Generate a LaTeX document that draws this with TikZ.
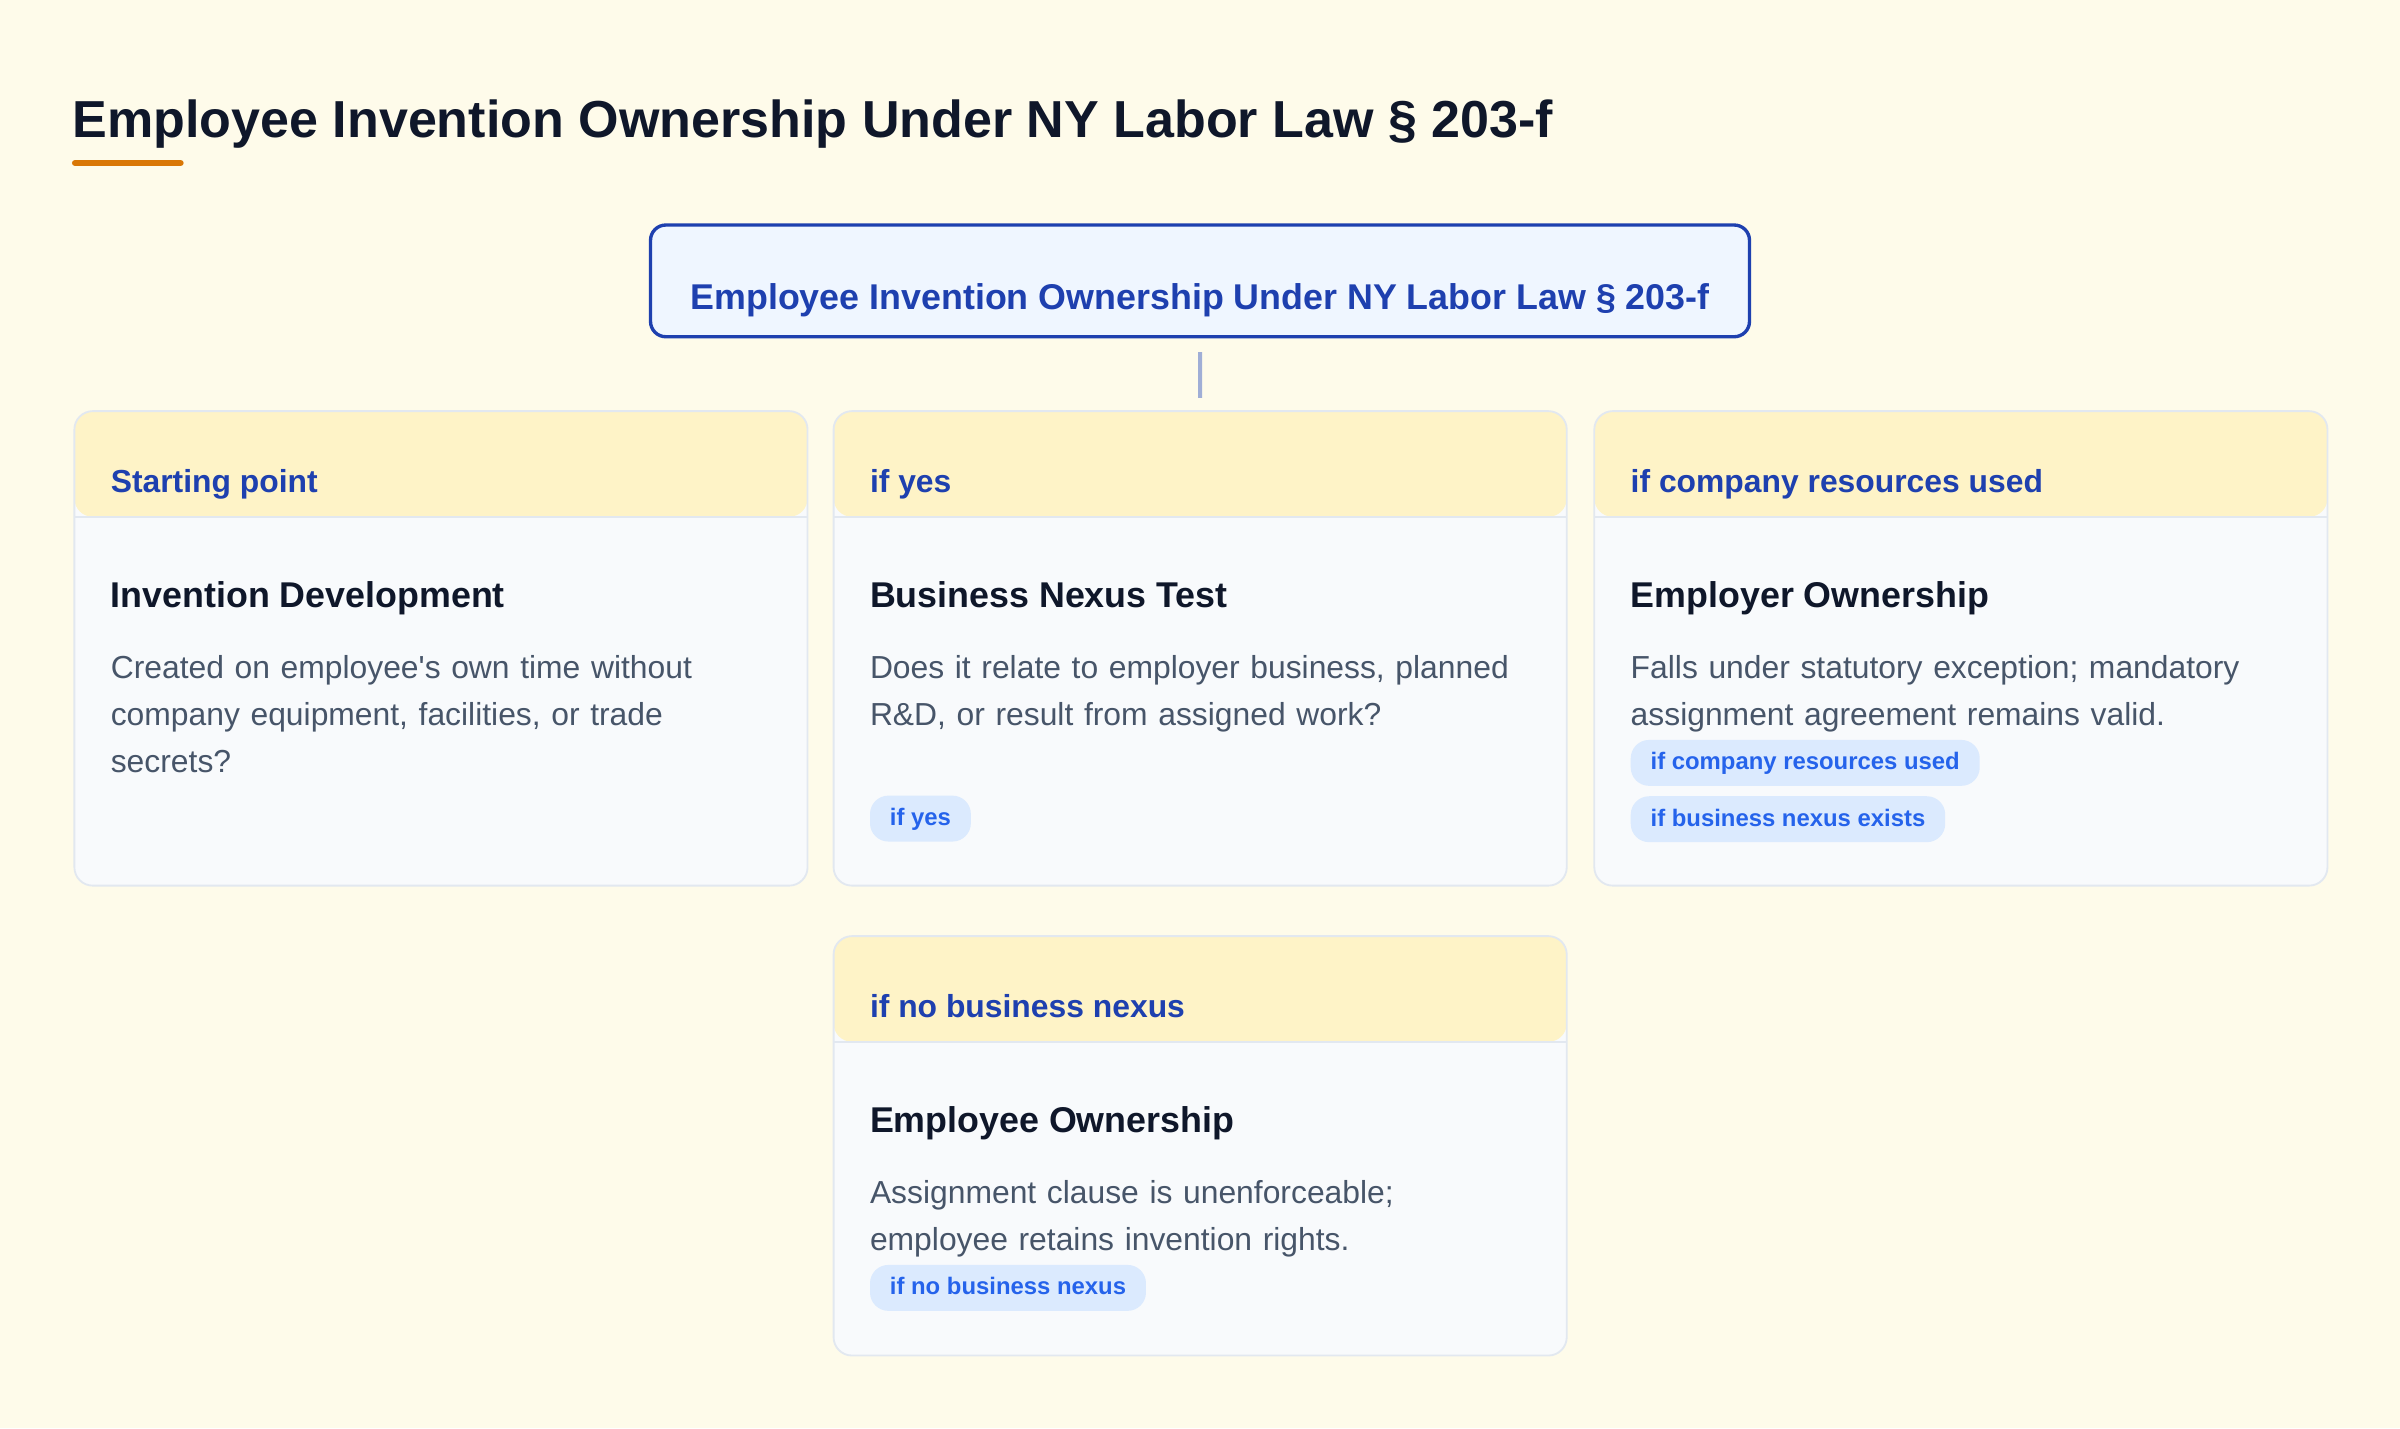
\documentclass[tikz,border=0pt]{standalone}
\usepackage{fontspec}
\setmainfont{Liberation Sans}[Ligatures=TeXOff]
\usetikzlibrary{positioning}
\definecolor{pagebg}{HTML}{FEFBEA}
\definecolor{ink}{HTML}{0F172A}
\definecolor{accent}{HTML}{D97706}
\definecolor{rootfill}{HTML}{EFF6FF}
\definecolor{rootline}{HTML}{1E40AF}
\definecolor{headblue}{HTML}{1E40AF}
\definecolor{linkline}{HTML}{A0AED6}
\definecolor{cardfill}{HTML}{F8FAFC}
\definecolor{cardline}{HTML}{E2E8F0}
\definecolor{headfill}{HTML}{FEF3C7}
\definecolor{slate}{HTML}{475569}
\definecolor{chipfill}{HTML}{DBEAFE}
\definecolor{chipblue}{HTML}{2563EB}
\tikzset{
  pagetitle/.style = {anchor=base west, inner sep=0pt, text=ink,
                font=\bfseries\fontsize{17pt}{20pt}\selectfont},
  rootbox/.style = {shape=rectangle, rounded corners=5pt,
                draw=rootline, fill=rootfill, line width=1.1pt,
                minimum width=359pt, minimum height=36.5pt, inner sep=0pt,
                text height=18.5pt, text depth=0pt, text=headblue,
                font=\bfseries\fontsize{11.7pt}{14pt}\selectfont},
  cardbox/.style = {shape=rectangle, rounded corners=6pt, anchor=north west,
                draw=cardline, fill=cardfill, line width=0.6pt,
                minimum width=239.5pt, minimum height=155pt, inner sep=0pt,
                path picture={
                  \fill[headfill] (path picture bounding box.north west)
                    rectangle ([yshift=-34.5pt]path picture bounding box.north east);
                  \draw[cardline, line width=0.6pt]
                    ([yshift=-34.5pt]path picture bounding box.north west)
                    -- ([yshift=-34.5pt]path picture bounding box.north east);
                }},
  headtext/.style = {anchor=base west, inner sep=0pt, text=headblue,
                font=\bfseries\fontsize{10.4pt}{12pt}\selectfont},
  cardtitle/.style = {anchor=base west, inner sep=0pt, text=ink,
                font=\bfseries\fontsize{11.7pt}{14pt}\selectfont},
  cardtext/.style = {anchor=base west, inner sep=0pt, text=slate,
                text width=215pt, align=left,
                font=\fontsize{10.4pt}{15.5pt}\selectfont},
  chip/.style = {shape=rectangle, rounded corners=6pt, fill=chipfill,
                text=chipblue, inner xsep=6.5pt, inner ysep=0pt,
                minimum height=15pt, text height=5.5pt, text depth=1pt,
                font=\bfseries\fontsize{7.8pt}{9pt}\selectfont},
  link/.style = {draw=linkline, line width=1.3pt},
}
\begin{document}
\begin{tikzpicture}[x=0.5pt, y=-0.5pt]
	\path[use as bounding box, fill=pagebg] (0,0) rectangle (1568,933);
	% heading
	\node [pagetitle] (title) at (47,90) {Employee Invention Ownership Under NY Labor Law § 203-f};
	\draw [accent, line width=2pt, line cap=round]
		([shift={(2,16.5)}]title.base west) -- ++(69,0);
	% root
	\node [rootbox] (root) at (784,183.5) {Employee Invention Ownership Under NY Labor Law § 203-f};
	% first row
	\node [cardbox] (start) at (48,268) {};
	\node [headtext] (starthead) at ([shift={(24,54)}]start.north west) {Starting point};
	\node [cardtitle] (starttitle) at ([shift={(24,129)}]start.north west) {Invention Development};
	\node [cardtext] (starttext) at ([shift={(24,175)}]start.north west)
		{Created on employee's own time without\\ company equipment, facilities, or trade\\ secrets?};
	\node [cardbox] (nexus) at (544,268) {};
	\node [headtext] (nexushead) at ([shift={(24,54)}]nexus.north west) {if yes};
	\node [cardtitle] (nexustitle) at ([shift={(24,129)}]nexus.north west) {Business Nexus Test};
	\node [cardtext] (nexustext) at ([shift={(24,175)}]nexus.north west)
		{Does it relate to employer business, planned\\ R\&D, or result from assigned work?};
	\node [chip, anchor=south west] (nexuschip) at ([shift={(24,-29)}]nexus.south west) {if yes};
	\node [cardbox] (employer) at (1041,268) {};
	\node [headtext] (employerhead) at ([shift={(24,54)}]employer.north west) {if company resources used};
	\node [cardtitle] (employertitle) at ([shift={(24,129)}]employer.north west) {Employer Ownership};
	\node [cardtext] (employertext) at ([shift={(24,175)}]employer.north west)
		{Falls under statutory exception; mandatory\\ assignment agreement remains valid.};
	\node [chip, anchor=north west] (employerchipa) at ([shift={(24,215)}]employer.north west) {if company resources used};
	\node [chip, below right=3pt and 0pt of employerchipa.south west] (employerchipb) {if business nexus exists};
	% second row
	\node [cardbox, minimum height=137pt] (employee) at (544,611) {};
	\node [headtext] (employeehead) at ([shift={(24,54)}]employee.north west) {if no business nexus};
	\node [cardtitle] (employeetitle) at ([shift={(24,129)}]employee.north west) {Employee Ownership};
	\node [cardtext] (employeetext) at ([shift={(24,175)}]employee.north west)
		{Assignment clause is unenforceable;\\ employee retains invention rights.};
	\node [chip, anchor=north west] (employeechip) at ([shift={(24,215)}]employee.north west) {if no business nexus};
	% root to cards
	\draw [link, shorten <=4.5pt, shorten >=4pt] (root.south) -- (nexus.north);
\end{tikzpicture}
\end{document}
